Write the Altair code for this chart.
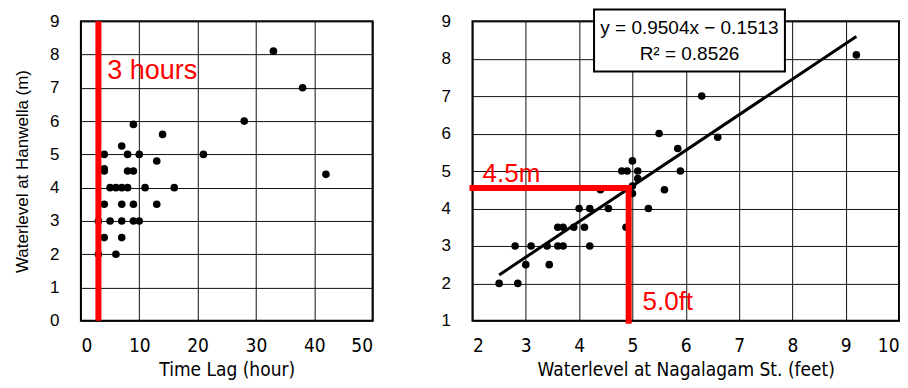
import altair as alt
import pandas as pd

# ---- Left panel: time lag vs. water level at Hanwella ----
lag_hours = [33, 38, 28, 9, 14, 7, 4, 8, 10, 21, 13, 4, 4, 8, 9, 42,
             5, 6, 7, 8, 11, 16, 4, 7, 9, 13, 3, 5, 7, 9, 10, 4, 7, 3, 6]
hanwella_lag = [8.1, 7.0, 6.0, 5.9, 5.6, 5.25, 5.0, 5.0, 5.0, 5.0, 4.8, 4.57, 4.5, 4.5, 4.5, 4.4,
                4.0, 4.0, 4.0, 4.0, 4.0, 4.0, 3.5, 3.5, 3.5, 3.5, 3.0, 3.0, 3.0, 3.0, 3.0, 2.5, 2.5, 2.0, 2.0]
lag_threshold = [3]
lag_label = ["3 hours"]

# ---- Right panel: Nagalagam St. vs. Hanwella ----
nagalagam_ft = [2.5, 2.85, 2.8, 3.1, 3.0, 3.4, 3.44, 3.6, 3.7, 3.6, 3.7, 3.9, 4.1, 4.2, 4.0, 4.2,
                4.55, 4.4, 4.88, 4.8, 4.9, 5.0, 5.1, 5.1, 5.0, 5.0, 5.3, 5.6, 5.5, 5.85, 5.9, 6.3, 6.6, 9.2]
hanwella_m = [2.0, 2.0, 3.0, 3.0, 2.5, 3.0, 2.5, 3.0, 3.0, 3.5, 3.5, 3.5, 3.5, 3.0, 4.0, 4.0,
              4.0, 4.5, 3.5, 5.0, 5.0, 5.27, 5.0, 4.8, 4.6, 4.4, 4.0, 4.5, 6.0, 5.6, 5.0, 7.0, 5.9, 8.1]
slope = 0.9504
intercept = -0.1513
fit_x = [2.5, 9.2]
threshold_ft = [4.93]
threshold_m = [4.55]
threshold_labels = ["4.5m", "5.0ft"]
equation_lines = ["y = 0.9504x \u2212 0.1513", "R\u00b2 = 0.8526"]

RED = "#ff0000"
ARIAL = "Liberation Sans"
NARROW = "Liberation Sans Narrow, DejaVu Sans Condensed, sans-serif"

left_df = pd.DataFrame({"lag": lag_hours, "level": hanwella_lag})
right_df = pd.DataFrame({"nag": nagalagam_ft, "han": hanwella_m})
fit_df = pd.DataFrame({"nag": fit_x, "han": [slope * v + intercept for v in fit_x]})

L_XSCALE = alt.Scale(domain=[0, 50], nice=False)
L_YSCALE = alt.Scale(domain=[0, 9], nice=False)
L_XAXIS = alt.Axis(values=[0, 10, 20, 30, 40, 50], title="Time Lag (hour)")
L_YAXIS = alt.Axis(values=list(range(0, 10)), title="Waterlevel at Hanwella (m)")


def lx(field):
    return alt.X(field, type="quantitative", scale=L_XSCALE, axis=L_XAXIS)


def ly(field):
    return alt.Y(field, type="quantitative", scale=L_YSCALE, axis=L_YAXIS)


left_points = alt.Chart(left_df).mark_circle(size=58, color="black", opacity=1).encode(
    x=lx("lag"), y=ly("level"))
left_rule = alt.Chart(pd.DataFrame({"lag": lag_threshold})).mark_rule(
    color=RED, strokeWidth=6).encode(x=lx("lag"))
left_text = alt.Chart(pd.DataFrame({"lag": [4.5], "level": [7.26], "t": lag_label})).mark_text(
    align="left", baseline="alphabetic", font=ARIAL, fontSize=27, color=RED
).encode(x=lx("lag"), y=ly("level"), text="t:N")

left = alt.layer(left_points, left_rule, left_text).properties(width=292, height=300)

R_XSCALE = alt.Scale(domain=[2, 10], nice=False)
R_YSCALE = alt.Scale(domain=[1, 9], nice=False)
R_XAXIS = alt.Axis(values=list(range(2, 11)), title="Waterlevel at Nagalagam St. (feet)")
R_YAXIS = alt.Axis(values=list(range(1, 10)), title=None)


def rx(field):
    return alt.X(field, type="quantitative", scale=R_XSCALE, axis=R_XAXIS)


def ry(field):
    return alt.Y(field, type="quantitative", scale=R_YSCALE, axis=R_YAXIS)


right_points = alt.Chart(right_df).mark_circle(size=58, color="black", opacity=1).encode(
    x=rx("nag"), y=ry("han"))
fit_line = alt.Chart(fit_df).mark_line(color="black", strokeWidth=3).encode(
    x=rx("nag"), y=ry("han"))

hrule = alt.Chart(pd.DataFrame({"x0": [2], "x1": threshold_ft, "y": threshold_m})).mark_rule(
    color=RED, strokeWidth=6, strokeCap="square").encode(
    x=rx("x0"), x2="x1", y=ry("y"))
vrule = alt.Chart(pd.DataFrame({"x": threshold_ft, "y0": [1], "y1": threshold_m})).mark_rule(
    color=RED, strokeWidth=6, strokeCap="square").encode(
    x=rx("x"), y=ry("y0"), y2="y1")
thr_text = alt.Chart(pd.DataFrame({"nag": [2.19, 5.19], "han": [4.70, 1.29], "t": threshold_labels})).mark_text(
    align="left", baseline="alphabetic", font=ARIAL, fontSize=26, color=RED
).encode(x=rx("nag"), y=ry("han"), text="t:N")

eq_box = alt.Chart(pd.DataFrame({"x0": [4.28], "x1": [7.86], "y0": [7.66], "y1": [9.31]})).mark_rect(
    fill="white", stroke="black", strokeWidth=2, clip=False).encode(
    x=rx("x0"), x2="x1", y=ry("y0"), y2="y1")
eq_text = alt.Chart(pd.DataFrame({"nag": [6.07, 6.07], "han": [8.67, 7.96], "t": equation_lines})).mark_text(
    align="center", baseline="alphabetic", font=ARIAL, fontSize=19, color="black"
).encode(x=rx("nag"), y=ry("han"), text="t:N")

right = alt.layer(right_points, fit_line, hrule, vrule, thr_text, eq_box, eq_text).properties(
    width=427, height=300)

chart = alt.hconcat(left, right, spacing=66).properties(
    padding={"left": 12, "top": 7, "right": 8, "bottom": 4},
    background="white",
).configure_view(
    stroke="black", strokeWidth=2
).configure_axis(
    grid=True, gridColor="#111111", gridWidth=1, gridOpacity=1,
    domain=False, ticks=False, labelOverlap=False,
    labelColor="black", titleColor="black", titleFontWeight="normal",
).configure_axisX(
    labelFont=NARROW, labelFontSize=19, labelPadding=16,
    titleFont=NARROW, titleFontSize=19, titlePadding=5,
).configure_axisY(
    labelFont=ARIAL, labelFontSize=17, labelPadding=22,
    titleFont=ARIAL, titleFontSize=17, titlePadding=18,
)

chart.save("out.html", embed_options={"renderer": "svg", "actions": False})
